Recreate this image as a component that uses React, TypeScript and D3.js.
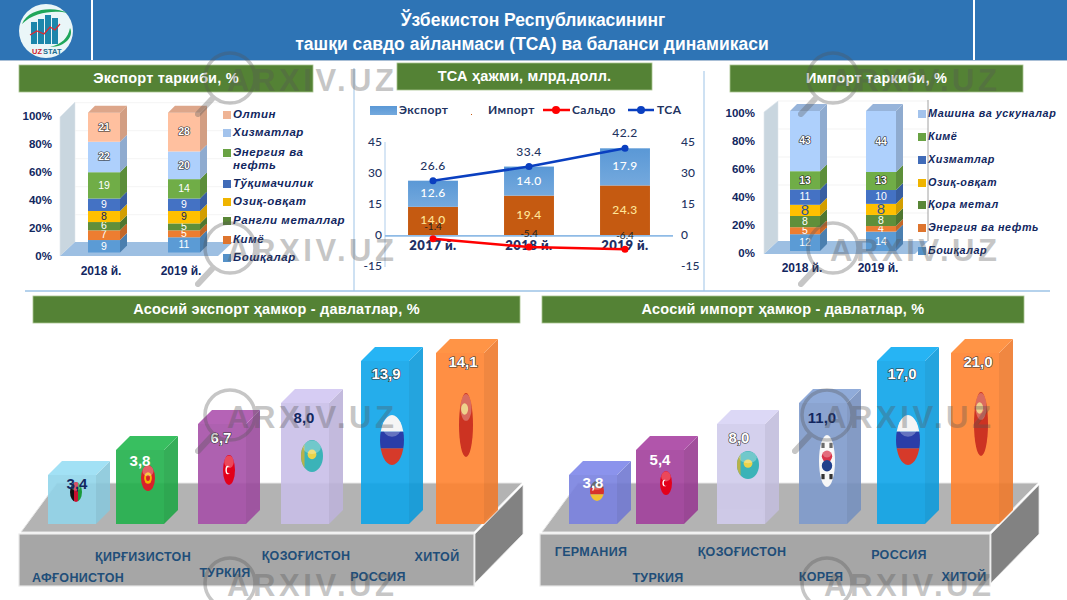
import React from "react";
import * as d3 from "d3";

const FONT = "'Liberation Sans', Arial, sans-serif";
const LATO = "Lato, 'Liberation Sans', sans-serif";
const NAVY = "#12275f";

// ---------- data ----------
const exportYears = ["2018 й.", "2019 й."];
const exportSeries = ["Бошқалар", "Кимё", "Рангли металлар", "Озиқ-овқат", "Тўқимачилик", "Энергия ва нефть", "Хизматлар", "Олтин"];
const export2018 = [9, 7, 6, 8, 9, 19, 22, 21];
const export2019 = [11, 5, 5, 9, 9, 14, 20, 28];

const importYears = ["2018 й.", "2019 й."];
const importSeries = ["Бошқалар", "Энергия ва нефть", "Қора метал", "Озиқ-овқат", "Хизматлар", "Кимё", "Машина ва ускуналар"];
const import2018 = [12, 5, 8, 8, 11, 13, 43];
const import2019 = [14, 4, 8, 8, 10, 13, 44];

const tsaYears = ["2017 й.", "2018 й.", "2019 й."];
const tsaExport = [12.6, 14.0, 17.9];
const tsaImport = [14.0, 19.4, 24.3];
const tsaSaldo = [-1.4, -5.4, -6.4];
const tsaTotal = [26.6, 33.4, 42.2];
const tsaTicks = [-15, 0, 15, 30, 45];
const pctTicks = [0, 20, 40, 60, 80, 100];

const exportPartners = ["АФҒОНИСТОН", "ҚИРҒИЗИСТОН", "ТУРКИЯ", "ҚОЗОҒИСТОН", "РОССИЯ", "ХИТОЙ"];
const exportPartnerValues = ["3,4", "3,8", "6,7", "8,0", "13,9", "14,1"];
const importPartners = ["ГЕРМАНИЯ", "ТУРКИЯ", "ҚОЗОҒИСТОН", "КОРЕЯ", "РОССИЯ", "ХИТОЙ"];
const importPartnerValues = ["3,8", "5,4", "8,0", "11,0", "17,0", "21,0"];

// ---------- layout / style tables ----------
const exportColors = ["#5b9bd5", "#ed7d31", "#5f8f3a", "#ffc000", "#4472c4", "#70ad47", "#aed0fc", "#ffc09f"];
const exportLabelFill = ["#fff", "#fff", "#fff", NAVY, "#fff", "#fff", "#fff", "#fff"];
const importColors = ["#5b9bd5", "#ed7d31", "#5f8f3a", "#ffc000", "#4472c4", "#70ad47", "#aed0fc"];
const importLabelFill = ["#fff", "#fff", "#fff", "#2f5597", "#fff", "#fff", "#fff"];
const exportLegendY = [258, 240, 221, 202, 184, 153, 133, 115];
const importLegendY = [251, 228, 205, 183, 160, 137, 114];

// rank -> drawn height of the decorative steps (not proportional in the original)
const stepHeight = d3.scaleOrdinal<number, number>().domain([0, 1, 2, 3, 4, 5]).range([49, 74, 100, 121, 163, 171]);
const leftStepX = d3.scaleOrdinal<number, number>().domain([0, 1, 2, 3, 4, 5]).range([48, 116, 198, 281, 361, 436]);
const rightStepX = d3.scaleOrdinal<number, number>().domain([0, 1, 2, 3, 4, 5]).range([569, 636, 717, 799, 877, 951]);
const leftColors = ["#92d5ea", "#22b14c", "#a650a8", "#c9bfe8", "#0ea5e9", "#ff8330"];
const rightColors = ["#7a82e0", "#a2409c", "#d0cbec", "#7f9bcc", "#0ea5e9", "#ff8330"];
const leftLabelFill = [NAVY, "#fff", "#outline", NAVY, "#outline", "#outline"];
const rightLabelFill = ["#fff", "#fff", "#outline", NAVY, "#outline", "#outline"];
const leftLabelPos: [number, number][] = [[77, 485], [140, 462], [221, 439], [304, 419], [386, 375], [463, 363]];
const rightLabelPos: [number, number][] = [[593, 484], [660, 461], [739, 439], [822, 419], [902, 375], [978, 363]];
const leftNamePos: [number, number][] = [[78, 579], [143, 558], [225, 574], [306, 557], [378, 578], [437, 558]];
const rightNamePos: [number, number][] = [[591, 553], [658, 579], [742, 553], [821, 578], [899, 556], [964, 578]];
type Flag = { kind: string; cx: number; cy: number; rx: number; ry: number };
const leftFlags: Flag[] = [
  { kind: "af", cx: 76, cy: 492, rx: 6, ry: 10 },
  { kind: "kg", cx: 148, cy: 478, rx: 7, ry: 13 },
  { kind: "tr", cx: 229, cy: 470, rx: 6, ry: 15 },
  { kind: "kz", cx: 312, cy: 456, rx: 11, ry: 16 },
  { kind: "ru", cx: 392, cy: 440, rx: 12, ry: 25 },
  { kind: "cn", cx: 466, cy: 425, rx: 7, ry: 32 },
];
const rightFlags: Flag[] = [
  { kind: "de", cx: 597, cy: 491, rx: 7, ry: 10 },
  { kind: "tr", cx: 666, cy: 483, rx: 6, ry: 12 },
  { kind: "kz", cx: 748, cy: 465, rx: 11, ry: 14 },
  { kind: "kr", cx: 827, cy: 461, rx: 8, ry: 26 },
  { kind: "ru", cx: 908, cy: 440, rx: 12, ry: 25 },
  { kind: "cn", cx: 981, cy: 424, rx: 7, ry: 32 },
];
const watermarkAt: [number, number][] = [[230, 78], [230, 248], [230, 415], [230, 583], [833, 78], [833, 248], [827, 415], [827, 583]];

// ---------- helpers ----------
const poly = (pts: [number, number][]) => pts.map((p) => p.join(",")).join(" ");
const shade = (c: string, k: number) => d3.color(c)!.darker(k).formatHex();

function Banner({ x, y, w, h, text, size = 14.5 }: { x: number; y: number; w: number; h: number; text: string; size?: number }) {
  return (
    <g>
      <rect x={x} y={y} width={w} height={h} fill="#548235" stroke="#a9c490" strokeWidth={0.8} />
      <text x={x + w / 2} y={y + h / 2 + 1} textAnchor="middle" dominantBaseline="middle" fill="#fff" fontFamily={FONT} fontWeight={700} fontSize={size} letterSpacing={0.2}>{text}</text>
    </g>
  );
}

function Stack3D(props: {
  years: string[]; series: string[]; rows: number[][]; colors: string[]; labelFill: string[];
  barX: number[]; barW: number; base: number; top: number; yTick0: number; yTick100: number; labelRight: number;
  wall: { x0: number; x1: number; xFloorFront: number; xFloorBack: number; top: number; topBack: number; floorBack: number; floorFront: number };
  legendX: number; legendY: number[]; legendSize: number; wrap?: Record<string, string[]>; yearY: number; yearX: number[]; bigLabel?: number;
}) {
  const { years, series, rows, colors, labelFill, barX, barW, base, top, yTick0, yTick100, labelRight, wall, legendX, legendY, legendSize, wrap, yearY, yearX, bigLabel } = props;
  const depth = 7;
  const records = years.map((yr, i) => Object.fromEntries([["year", yr], ...series.map((s, k) => [s, rows[i][k]])]));
  const stacked = d3.stack<any>().keys(series).offset(d3.stackOffsetExpand)(records as any);
  const y = d3.scaleLinear().domain([0, 1]).range([base, top]);
  const tickY = d3.scaleLinear().domain([0, 100]).range([yTick0, yTick100]);
  return (
    <g>
      <polygon points={poly([[wall.x0, wall.top], [wall.x1, wall.topBack], [wall.x1, wall.floorBack], [wall.x0, wall.floorFront]])} fill="#c9d6df" stroke="#dfe6ec" strokeWidth={0.6} />
      {pctTicks.slice(1).map((t) => {
        const py = tickY(t) - (wall.floorFront - wall.floorBack);
        return <line key={t} x1={wall.x1} x2={wall.xFloorBack} y1={py} y2={py} stroke="#f0f0f0" strokeWidth={0.8} />;
      })}
      <polygon points={poly([[wall.x0, wall.floorFront], [wall.x1, wall.floorBack], [wall.xFloorBack, wall.floorBack], [wall.xFloorFront, wall.floorFront]])} fill="#9dbfe2" />
      {pctTicks.map((t) => (
        <text key={t} x={labelRight} y={tickY(t)} textAnchor="end" dominantBaseline="middle" fontFamily={FONT} fontWeight={700} fontSize={11.5} fill={NAVY}>{t}%</text>
      ))}
      {years.map((yr, i) => (
        <text key={yr} x={yearX[i]} y={yearY} textAnchor="middle" dominantBaseline="middle" fontFamily={FONT} fontWeight={700} fontSize={12} fill={NAVY}>{yr}</text>
      ))}
      {stacked.map((layer, k) =>
        layer.map((d, i) => {
          const x = barX[i];
          const y0 = y(d[0]);
          const y1 = y(d[1]);
          const c = colors[k];
          const isTop = k === series.length - 1;
          const raw = rows[i][k];
          const doubled = raw >= 20 || (k >= series.length - 2 && raw >= 13 && series.length === 7);
          const big = bigLabel !== undefined && labelFill[k] !== "#fff";
          return (
            <g key={k + "-" + i}>
              <rect x={x} y={y1} width={barW} height={y0 - y1} fill={c} />
              <polygon points={poly([[x + barW, y0], [x + barW + depth, y0 - depth], [x + barW + depth, y1 - depth], [x + barW, y1]])} fill={shade(c, 0.55)} />
              {isTop && <polygon points={poly([[x, y1], [x + depth, y1 - depth], [x + barW + depth, y1 - depth], [x + barW, y1]])} fill={shade(c, 0.4)} />}
              <text x={x + barW / 2} y={(y0 + y1) / 2 + 0.5} textAnchor="middle" dominantBaseline="middle" fontFamily={FONT} fontSize={big ? bigLabel : 10.5} fontWeight={doubled ? 700 : 400}
                fill={labelFill[k]} stroke={doubled ? "#222" : "none"} strokeWidth={doubled ? 1.2 : 0} style={{ paintOrder: "stroke" }}>{raw}</text>
            </g>
          );
        })
      )}
      {series.map((s, k) => {
        const lines = wrap?.[s] ?? [s];
        return (
          <g key={s}>
            <rect x={legendX} y={legendY[k] - 4} width={8} height={8} fill={shade(colors[k], 0.18)} />
            {lines.map((ln, j) => (
              <text key={ln} x={legendX + 10} y={legendY[k] + j * 12.5} dominantBaseline="middle" fontFamily={FONT} fontStyle="italic" fontWeight={700} fontSize={legendSize} letterSpacing={0.55} fill={NAVY}>{ln}</text>
            ))}
          </g>
        );
      })}
    </g>
  );
}

function FlagBall({ f, id }: { f: Flag; id: string }) {
  const { kind, cx, cy, rx, ry } = f;
  const x0 = cx - rx, y0 = cy - ry, w = rx * 2, h = ry * 2;
  const band = (i: number, n: number, c: string) => <rect key={c + i} x={x0} y={y0 + (h * i) / n} width={w} height={h / n} fill={c} />;
  const cols = (i: number, n: number, c: string) => <rect key={c + i} x={x0 + (w * i) / n} y={y0} width={w / n} height={h} fill={c} />;
  let body: React.ReactNode = null;
  if (kind === "af") body = [cols(0, 3, "#111"), cols(1, 3, "#c8102e"), cols(2, 3, "#1a9a3a")];
  if (kind === "kg") body = [band(0, 1, "#d8202a"), <ellipse key="s" cx={cx} cy={cy} rx={rx * 0.55} ry={ry * 0.45} fill="#f4b400" />, <ellipse key="s2" cx={cx} cy={cy} rx={rx * 0.28} ry={ry * 0.23} fill="#d8202a" />];
  if (kind === "tr") body = [band(0, 1, "#e3001b"), <ellipse key="c" cx={cx - rx * 0.2} cy={cy} rx={rx * 0.4} ry={ry * 0.28} fill="#fff" />, <ellipse key="c2" cx={cx} cy={cy} rx={rx * 0.36} ry={ry * 0.24} fill="#e3001b" />];
  if (kind === "kz") body = [band(0, 1, "#3bb3b8"), <ellipse key="s" cx={cx} cy={cy - ry * 0.1} rx={rx * 0.4} ry={ry * 0.3} fill="#ecd34a" />, <rect key="o" x={x0} y={y0} width={w * 0.16} height={h} fill="#b8b24a" />];
  if (kind === "ru") body = [band(0, 3, "#f2f2f2"), band(1, 3, "#2a3da8"), band(2, 3, "#d63a2a")];
  if (kind === "cn") body = [band(0, 1, "#cc3322"), <ellipse key="s" cx={cx - rx * 0.2} cy={cy - ry * 0.5} rx={rx * 0.5} ry={ry * 0.18} fill="#e8c060" />];
  if (kind === "de") body = [band(0, 3, "#333"), band(1, 3, "#d8322a"), band(2, 3, "#f2c230")];
  if (kind === "kr") body = [band(0, 1, "#f7f7f7"),
    <ellipse key="r" cx={cx} cy={cy - ry * 0.18} rx={rx * 0.65} ry={ry * 0.22} fill="#d8344a" />,
    <ellipse key="b" cx={cx} cy={cy + ry * 0.18} rx={rx * 0.65} ry={ry * 0.22} fill="#20408c" />,
    <rect key="t1" x={cx - rx * 0.7} y={cy - ry * 0.7} width={rx * 0.4} height={ry * 0.2} fill="#333" />,
    <rect key="t2" x={cx + rx * 0.3} y={cy - ry * 0.7} width={rx * 0.4} height={ry * 0.2} fill="#333" />,
    <rect key="t3" x={cx - rx * 0.7} y={cy + ry * 0.5} width={rx * 0.4} height={ry * 0.2} fill="#333" />,
    <rect key="t4" x={cx + rx * 0.3} y={cy + ry * 0.5} width={rx * 0.4} height={ry * 0.2} fill="#333" />];
  return (
    <g>
      <clipPath id={id}><ellipse cx={cx} cy={cy} rx={rx} ry={ry} /></clipPath>
      <g clipPath={`url(#${id})`}>
        {body}
        <ellipse cx={cx} cy={cy - ry * 0.55} rx={rx * 0.8} ry={ry * 0.42} fill="#fff" opacity={0.28} />
      </g>
    </g>
  );
}

function Steps(props: {
  prefix: string; values: string[]; names: string[]; stepX: (i: number) => number; colors: string[]; labelFill: string[];
  labelPos: [number, number][]; namePos: [number, number][]; flags: Flag[]; frontX0: number; frontX1: number;
}) {
  const { prefix, values, names, stepX, colors, labelFill, labelPos, namePos, flags, frontX0, frontX1 } = props;
  const floorFront = 534, floorH = 52, depth = 48, rear = 483, w = 48, d = 14, base = 524;
  return (
    <g>
      <polygon points={poly([[frontX0 + 2, 532], [frontX0 + 2 + depth - 12, rear], [frontX1 + depth, rear], [frontX1, 532]])} fill="#b3b3b3" stroke="#e8e8e8" strokeWidth={1} />
      <polygon points={poly([[frontX1 + 1, floorFront], [frontX1 + 1 + depth, floorFront - 49], [frontX1 + 1 + depth, floorFront], [frontX1 + 1, floorFront + 49]])} fill="#828282" stroke="#e8e8e8" strokeWidth={0.8} />
      <rect x={frontX0} y={floorFront} width={frontX1 - frontX0} height={floorH} fill="#a6a6a6" stroke="#e8e8e8" strokeWidth={1.2} />
      {values.map((v, i) => {
        const x = stepX(i);
        const h = stepHeight(i);
        const t = base - h;
        const c = colors[i];
        const outline = labelFill[i] === "#outline";
        return (
          <g key={prefix + i}>
            <g opacity={0.9}>
              <rect x={x} y={t} width={w} height={h} fill={c} />
              <polygon points={poly([[x + w, base], [x + w + d, base - d], [x + w + d, t - d], [x + w, t]])} fill={shade(c, 0.18)} />
              <polygon points={poly([[x, t], [x + d, t - d], [x + w + d, t - d], [x + w, t]])} fill={d3.color(c)!.brighter(0.12).formatHex()} />
            </g>
            <FlagBall f={flags[i]} id={prefix + "flag" + i} />
            <text x={labelPos[i][0]} y={labelPos[i][1]} textAnchor="middle" dominantBaseline="middle" fontFamily={FONT} fontWeight={700} fontSize={15}
              fill={outline ? "#fff" : labelFill[i]} stroke={outline ? "#333" : "none"} strokeWidth={outline ? 1.2 : 0} style={{ paintOrder: "stroke" }}>{v}</text>
            <text x={namePos[i][0]} y={namePos[i][1]} textAnchor="middle" dominantBaseline="middle" fontFamily={FONT} fontWeight={700} fontSize={12.5} letterSpacing={0.3} fill="#1f4e79">{names[i]}</text>
          </g>
        );
      })}
    </g>
  );
}

function TsaChart() {
  const y = d3.scaleLinear().domain([-15, 45]).range([267, 142.5]);
  const x = d3.scaleBand<string>().domain(tsaYears).range([385, 673]).paddingInner(0.48).paddingOuter(0.24);
  const cx = (yr: string) => x(yr)! + x.bandwidth() / 2;
  const line = d3.line<number>().x((_, i) => cx(tsaYears[i])).y((v) => y(v));
  const saldoLabelShift = [-11, -13, -13];
  const legendText = { fontFamily: LATO, fontWeight: 700, fontSize: 12, letterSpacing: 0.4, fill: "#22335f", dominantBaseline: "middle" as const };
  return (
    <g>
      <defs>
        <linearGradient id="expGrad" x1="0" y1="0" x2="0" y2="1">
          <stop offset="0%" stopColor="#5a98d6" />
          <stop offset="100%" stopColor="#74a9dd" />
        </linearGradient>
      </defs>
      <rect x={370} y={106} width={27} height={9} fill="url(#expGrad)" />
      <text x={399} y={110.5} {...legendText}>Экспорт</text>
      <rect x={471} y={114} width={1} height={1} fill="#c55a11" />
      <text x={488} y={110.5} {...legendText}>Импорт</text>
      <line x1={543} x2={570} y1={110} y2={110} stroke="#ff0000" strokeWidth={2.5} />
      <circle cx={556} cy={110} r={4} fill="#ff0000" />
      <text x={572} y={110.5} {...legendText}>Сальдо</text>
      <line x1={628} x2={654} y1={110} y2={110} stroke="#0a3fc0" strokeWidth={2.5} />
      <circle cx={641} cy={110} r={4} fill="#0a3fc0" />
      <text x={657} y={110.5} {...legendText}>ТСА</text>

      <line x1={385} x2={385} y1={142} y2={267} stroke="#bcd6ee" strokeWidth={1.2} />
      {tsaTicks.map((t) => (
        <g key={t}>
          <text x={382} y={y(t)} textAnchor="end" dominantBaseline="middle" fontFamily={LATO} fontWeight={500} fontSize={12} fill="#22335f">{t}</text>
          <text x={681} y={y(t)} textAnchor="start" dominantBaseline="middle" fontFamily={LATO} fontWeight={500} fontSize={12} fill="#22335f">{t}</text>
        </g>
      ))}
      {tsaYears.map((yr, i) => (
        <g key={yr}>
          <rect x={x(yr)} y={y(tsaImport[i])} width={x.bandwidth()} height={y(0) - y(tsaImport[i])} fill="#c55a11" />
          <rect x={x(yr)} y={y(tsaImport[i] + tsaExport[i])} width={x.bandwidth()} height={y(tsaImport[i]) - y(tsaImport[i] + tsaExport[i])} fill="url(#expGrad)" />
          <text x={cx(yr)} y={y(tsaImport[i] + tsaExport[i] / 2) + 0.5} textAnchor="middle" dominantBaseline="middle" fontFamily={LATO} fontWeight={500} fontSize={12} letterSpacing={0.4} fill="#fff">{tsaExport[i].toFixed(1)}</text>
          <text x={cx(yr)} y={y(tsaImport[i] / 2)} textAnchor="middle" dominantBaseline="middle" fontFamily={LATO} fontWeight={500} fontSize={12} letterSpacing={0.4} fill="#ffe699">{tsaImport[i].toFixed(1)}</text>
        </g>
      ))}
      <line x1={385} x2={673} y1={y(0)} y2={y(0)} stroke="#8fbbe6" strokeWidth={1.8} />
      {tsaYears.map((yr) => (
        <text key={yr} x={cx(yr)} y={247} textAnchor="middle" dominantBaseline="middle" fontFamily={LATO} fontWeight={800} fontSize={13} letterSpacing={0.5} fill="#1f3064">{yr}</text>
      ))}
      <path d={line(tsaSaldo)!} fill="none" stroke="#ff0000" strokeWidth={2.5} />
      <path d={line(tsaTotal)!} fill="none" stroke="#0a3fc0" strokeWidth={2.5} />
      {tsaYears.map((yr, i) => (
        <g key={yr}>
          <circle cx={cx(yr)} cy={y(tsaSaldo[i])} r={3.5} fill="#ff0000" />
          <circle cx={cx(yr)} cy={y(tsaTotal[i])} r={3.5} fill="#0a3fc0" />
          <text x={cx(yr)} y={y(tsaTotal[i]) - 14} textAnchor="middle" dominantBaseline="middle" fontFamily={LATO} fontWeight={500} fontSize={12} letterSpacing={0.4} fill="#22335f">{tsaTotal[i].toFixed(1)}</text>
          <text x={cx(yr)} y={y(tsaSaldo[i]) + saldoLabelShift[i]} textAnchor="middle" dominantBaseline="middle" fontFamily={LATO} fontSize={10} fill="#222">{tsaSaldo[i].toFixed(1)}</text>
        </g>
      ))}
    </g>
  );
}

function Logo() {
  const barXs = [31, 38, 45, 52];
  const barTops = [22, 19, 15, 18];
  return (
    <g>
      <circle cx={46} cy={31} r={27} fill="#eaf6f8" />
      <path d="M22,24 C28,8 54,6 68,13 C54,10 34,12 22,24Z" fill="#1fa65a" />
      <path d="M70,28 C74,36 66,47 50,47 C62,44 68,38 70,28Z" fill="#1fa65a" />
      {barXs.map((bx, i) => (
        <rect key={bx} x={bx} y={barTops[i]} width={6} height={44 - barTops[i]} fill="#1c86ab" />
      ))}
      <polyline points="30,35 37,31 44,34 50,27 55,30 60,24" fill="none" stroke="#e0282e" strokeWidth={1.2} />
      <text x={32} y={54} fontFamily={FONT} fontWeight={700} fontSize={7.5} fill="#d0202a">UZ</text>
      <text x={43} y={54} fontFamily={FONT} fontWeight={700} fontSize={7.5} fill="#1c6d8f">STAT</text>
    </g>
  );
}

function Watermark({ x, y }: { x: number; y: number }) {
  return (
    <g opacity={0.33} fill="none" stroke="#555">
      <circle cx={x} cy={y} r={25} strokeWidth={3.5} />
      <line x1={x - 18} y1={y + 21} x2={x - 32} y2={y + 36} strokeWidth={6} strokeLinecap="round" />
      <text x={x - 3} y={y + 13} fontFamily={FONT} fontWeight={700} fontSize={31} letterSpacing={3.6} fill="#555" stroke="none">ARXIV.UZ</text>
    </g>
  );
}

export default function App() {
  return (
    <svg width={1067} height={600} viewBox="0 0 1067 600" style={{ position: "fixed", left: 0, top: 0, background: "#fff" }}>
      <rect x={0} y={0} width={1067} height={60} fill="#2e74b5" />
      <line x1={0} x2={1067} y1={60.5} y2={60.5} stroke="#a9bfd6" strokeWidth={1} />
      <rect x={91} y={0} width={2} height={60} fill="#fff" />
      <rect x={973} y={0} width={2} height={60} fill="#fff" />
      <Logo />
      <text x={533} y={21} textAnchor="middle" dominantBaseline="middle" fontFamily={FONT} fontWeight={700} fontSize={17.5} fill="#fff">Ўзбекистон Республикасининг</text>
      <text x={532} y={45} textAnchor="middle" dominantBaseline="middle" fontFamily={FONT} fontWeight={700} fontSize={17.5} fill="#fff">ташқи савдо айланмаси (ТСА) ва баланси динамикаси</text>

      <Banner x={19} y={65} w={294} h={27} text="Экспорт таркиби, %" />
      <Banner x={397} y={63} w={255} h={27} text="ТСА ҳажми, млрд.долл." />
      <Banner x={730} y={65} w={293} h={27} text="Импорт таркиби, %" />
      <Banner x={33} y={296} w={487} h={27} text="Асосий экспорт ҳамкор - давлатлар, %" />
      <Banner x={542} y={296} w={482} h={27} text="Асосий импорт ҳамкор - давлатлар, %" />

      <line x1={354} x2={354} y1={68} y2={291} stroke="#9dc3e6" strokeWidth={1} />
      <line x1={704} x2={704} y1={71} y2={291} stroke="#9dc3e6" strokeWidth={1} />
      <line x1={25} x2={1050} y1={291} y2={291} stroke="#9dc3e6" strokeWidth={1.5} />

      <Stack3D years={exportYears} series={exportSeries} rows={[export2018, export2019]} colors={exportColors} labelFill={exportLabelFill}
        barX={[88, 168]} barW={32} base={252.5} top={112.7} yTick0={256.7} yTick100={116.7} labelRight={52}
        wall={{ x0: 60, x1: 75, xFloorFront: 218, xFloorBack: 233, top: 117, topBack: 102, floorBack: 242, floorFront: 256 }}
        legendX={223} legendY={exportLegendY} legendSize={11.5} wrap={{ "Энергия ва нефть": ["Энергия ва", "нефть"] }}
        yearY={272} yearX={[101, 181]} />

      <TsaChart />

      <Stack3D years={importYears} series={importSeries} rows={[import2018, import2019]} colors={importColors} labelFill={importLabelFill}
        barX={[790, 866]} barW={30} base={251} top={111} yTick0={254} yTick100={114} labelRight={755}
        wall={{ x0: 764, x1: 778, xFloorFront: 915, xFloorBack: 928, top: 112, topBack: 101, floorBack: 241, floorFront: 254 }}
        legendX={918} legendY={importLegendY} legendSize={10.8} yearY={269} yearX={[802, 878]} bigLabel={15} />
      <line x1={928} x2={928} y1={100} y2={241} stroke="#8a8a8a" strokeWidth={0.8} />

      <Steps prefix="l" values={exportPartnerValues} names={exportPartners} stepX={(i) => leftStepX(i)} colors={leftColors} labelFill={leftLabelFill}
        labelPos={leftLabelPos} namePos={leftNamePos} flags={leftFlags} frontX0={19} frontX1={474} />
      <Steps prefix="r" values={importPartnerValues} names={importPartners} stepX={(i) => rightStepX(i)} colors={rightColors} labelFill={rightLabelFill}
        labelPos={rightLabelPos} namePos={rightNamePos} flags={rightFlags} frontX0={540} frontX1={990} />

      {watermarkAt.map(([x, y]) => <Watermark key={x + "-" + y} x={x} y={y} />)}
    </svg>
  );
}
